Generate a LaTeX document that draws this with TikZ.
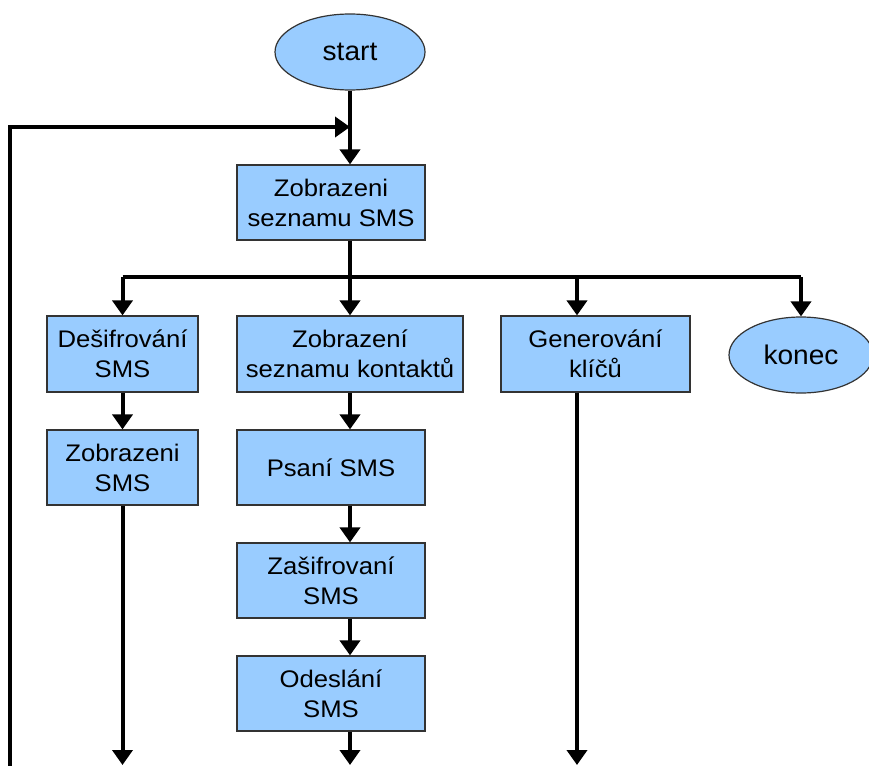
\documentclass[tikz,border=0pt]{standalone}
\usepackage{fontspec}
\setmainfont{Liberation Sans}
\newfontfamily\wideboxfont[FakeStretch=1.07]{Liberation Sans}
\newfontfamily\widetermfont[FakeStretch=1.04]{Liberation Sans}
\usetikzlibrary{shapes.geometric,arrows.meta}
\definecolor{boxfill}{HTML}{99CCFF}
\definecolor{boxline}{HTML}{333333}
\begin{document}
\begin{tikzpicture}[x=1pt,y=-1pt,
  procbox/.style={rectangle,draw=boxline,line width=1.2pt,fill=boxfill,
    inner sep=0pt,align=center,font=\wideboxfont\fontsize{24}{30}\selectfont},
  termnode/.style={ellipse,draw=boxline,line width=1.2pt,fill=boxfill,
    inner sep=0pt,font=\widetermfont\fontsize{27}{32}\selectfont},
  flow/.style={line width=4pt,-{Triangle[length=15pt,width=20pt]}},
  wire/.style={line width=4pt}]
\useasboundingbox (0,0) rectangle (869,765);

% terminals
\node[termnode,minimum width=150pt,minimum height=76pt] (start) at (350,52) {start};
\node[termnode,minimum width=144pt,minimum height=76pt] (konec) at (801,355) {konec};

% process boxes
\node[procbox,minimum width=188pt,minimum height=75pt] (seznam) at (331,202.5) {Zobrazeni\\seznamu SMS};
\node[procbox,minimum width=151pt,minimum height=76pt] (desif) at (122.5,354) {Dešifrování\\SMS};
\node[procbox,minimum width=226pt,minimum height=76pt] (kontakty) at (350,354) {Zobrazení\\seznamu kontaktů};
\node[procbox,minimum width=189pt,minimum height=76pt] (gen) at (595.5,354) {Generování\\klíčů};
\node[procbox,minimum width=151pt,minimum height=75pt] (zobsms) at (122.5,467.5) {Zobrazeni\\SMS};
\node[procbox,minimum width=188pt,minimum height=75pt] (psani) at (331,467.5) {Psaní SMS};
\node[procbox,minimum width=188pt,minimum height=75pt] (zasif) at (331,580.5) {Zašifrovaní\\SMS};
\node[procbox,minimum width=188pt,minimum height=75pt] (odesl) at (331,693.5) {Odeslání\\SMS};

% routing points
\coordinate (join) at (350,127);
\coordinate (busL) at (122.5,277);
\coordinate (busM) at (350,277);
\coordinate (busG) at (577,277);
\coordinate (busR) at (801,277);
\coordinate (loopEnd) at (10,767);
\coordinate (endA) at (122.5,765);
\coordinate (endB) at (350,765);
\coordinate (endC) at (577,765);

% main spine
\draw[flow] (start.south) -- (start.south |- seznam.north);
\draw[flow] (loopEnd) |- (join);
\draw[wire] (seznam.south -| busM) -- (busM);
\draw[wire] (busL) -- (busR);

% branches from the bus
\draw[flow] (busL) -- (desif.north);
\draw[flow] (busM) -- (kontakty.north);
\draw[flow] (busG) -- (busG |- gen.north);
\draw[flow] (busR) -- (busR |- konec.north);

% left column
\draw[flow] (desif.south) -- (zobsms.north);
\draw[flow] (zobsms.south) -- (endA);

% middle column
\draw[flow] (kontakty.south) -- (kontakty.south |- psani.north);
\draw[flow] (psani.south -| busM) -- (zasif.north -| busM);
\draw[flow] (zasif.south -| busM) -- (odesl.north -| busM);
\draw[flow] (odesl.south -| busM) -- (endB);

% right column
\draw[flow] (gen.south -| busG) -- (endC);
\end{tikzpicture}
\end{document}
